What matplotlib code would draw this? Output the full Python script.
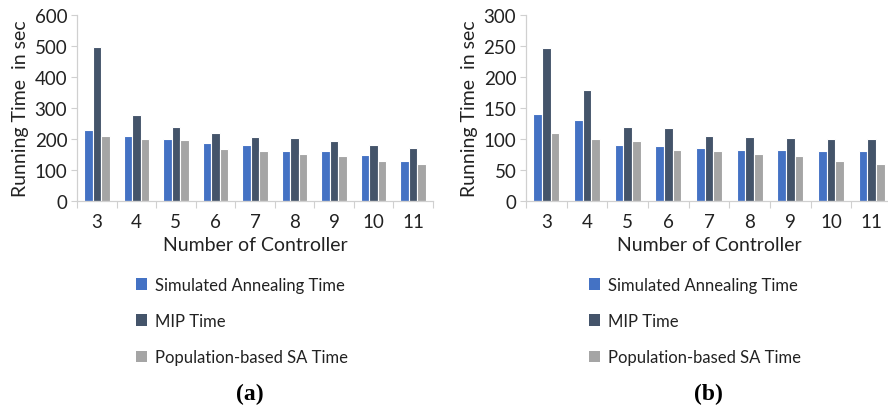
import matplotlib
matplotlib.use("Agg")
import matplotlib.pyplot as plt
from matplotlib.patches import Patch
import numpy as np

controllers = ["3", "4", "5", "6", "7", "8", "9", "10", "11"]

# panel (a)
sa_a = [230, 210, 200, 188, 180, 162, 160, 150, 130]
mip_a = [497, 278, 240, 218, 205, 203, 192, 180, 170]
pop_a = [210, 200, 196, 167, 160, 152, 144, 130, 120]

# panel (b)
sa_b = [140, 130, 90, 88, 85, 83, 82, 80, 80]
mip_b = [246, 179, 120, 118, 105, 103, 102, 100, 100]
pop_b = [110, 100, 96, 83, 80, 76, 72, 65, 60]

series_names = ["Simulated Annealing Time", "MIP Time", "Population-based SA Time"]
colors = ["#4472C4", "#44546A", "#A5A5A5"]

W, H = 888, 410
fig = plt.figure(figsize=(W / 100, H / 100), dpi=100)
plt.rcParams["font.family"] = ["Lato", "DejaVu Sans"]

grey_axis = "#D0D0D0"


def panel(rect_px, series, ymax, ystep, tag, tag_x, legend_x):
    x0, y_top, x1, y_bot = rect_px
    ax = fig.add_axes([x0 / W, (H - y_bot) / H, (x1 - x0) / W, (y_bot - y_top) / H])
    x = np.arange(len(controllers))
    bw = 0.215
    for i, (vals, c) in enumerate(zip(series, colors)):
        ax.bar(x + (i - 1) * bw, vals, width=bw, color=c,
               edgecolor="white", linewidth=0.8, zorder=2)
    ax.set_xlim(-0.5, len(controllers) - 0.5)
    ax.set_ylim(0, ymax)
    ax.set_yticks(np.arange(0, ymax + 1, ystep))
    ax.set_xticks(x)
    ax.set_xticklabels(controllers)
    ax.set_xticks(np.arange(-0.5, len(controllers), 1), minor=True)
    ax.tick_params(axis="x", which="major", length=0, labelsize=13.5, pad=9,
                   colors="#222222")
    ax.tick_params(axis="x", which="minor", length=5, width=0.8, color=grey_axis,
                   direction="out")
    ax.tick_params(axis="y", length=4, width=0.8, color=grey_axis,
                   labelsize=13.5, pad=3, labelcolor="#222222")
    for s in ("top", "right"):
        ax.spines[s].set_visible(False)
    for s in ("left", "bottom"):
        ax.spines[s].set_color(grey_axis)
        ax.spines[s].set_linewidth(0.9)
    ax.set_xlabel("Number of Controller", fontsize=14, labelpad=4, color="#222222")
    ax.set_ylabel("Running Time  in sec", fontsize=14, labelpad=4, color="#222222")

    handles = [Patch(facecolor=c, edgecolor="none") for c in colors]
    fig.legend(handles, series_names, loc="upper left",
               bbox_to_anchor=(legend_x / W, (H - 271) / H),
               frameon=False, fontsize=12, handlelength=0.7, handleheight=0.7,
               handletextpad=0.45, labelspacing=1.22, borderaxespad=0,
               labelcolor="#222222")
    fig.text(tag_x / W, (H - 394) / H, tag, ha="center", va="center",
             fontsize=17, fontweight="bold", family="Liberation Serif")
    return ax


panel((77, 16, 433, 202), [sa_a, mip_a, pop_a], 600, 100, "(a)", 250, 129)
panel((526, 16, 892, 202), [sa_b, mip_b, pop_b], 300, 50, "(b)", 708, 582)

fig.savefig("out.png", dpi=100)
